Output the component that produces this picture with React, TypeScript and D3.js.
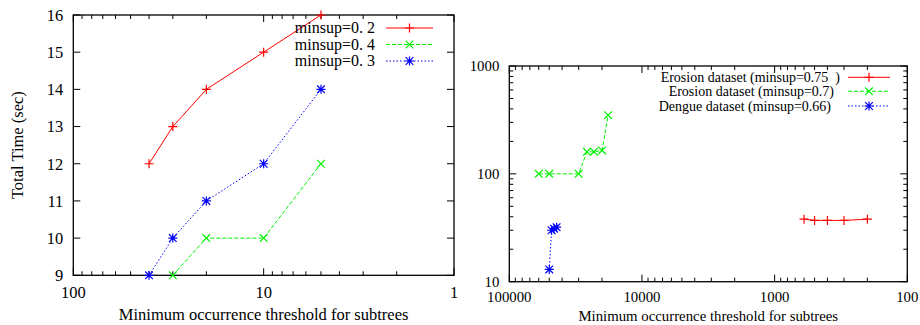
import * as d3 from 'd3';

// ---- left panel data (minimum occurrence threshold vs total time) ----
const leftThresholds = [40, 30, 20, 10, 5];
const leftMinsup02 = [12, 13, 14, 15, 16];
const leftMinsup04X = [30, 20, 10, 5];
const leftMinsup04 = [9, 10, 10, 12];
const leftMinsup03 = [9, 10, 11, 12, 14];
const leftYTicks = [9, 10, 11, 12, 13, 14, 15, 16];
const leftXTicks = [100, 10, 1];

// ---- right panel data (log-log) ----
const erosion075X = [600, 500, 400, 300, 200];
const erosion075Y = [38, 37, 37, 37, 38];
const erosion07X = [60000, 50000, 30000, 26000, 23000, 20000, 18000];
const erosion07Y = [100, 100, 100, 160, 160, 165, 350];
const dengueX = [50000, 48000, 46000, 44000];
const dengueY = [13, 30, 31, 32];
const rightYTicks = [10, 100, 1000];
const rightXTicks = [100000, 10000, 1000, 100];

const FONT = '"Liberation Serif", "Times New Roman", serif';

type Marker = 'plus' | 'cross' | 'star';
interface Series {
  label: string;
  xs: number[];
  ys: number[];
  color: string;
  dash: string | null;
  marker: Marker;
}

function MarkerGlyph({ x, y, type, color, r = 4.5 }: { x: number; y: number; type: Marker; color: string; r?: number }) {
  const plus = `M${x - r},${y}H${x + r}M${x},${y - r}V${y + r}`;
  const k = r * 0.85;
  const cross = `M${x - k},${y - k}L${x + k},${y + k}M${x - k},${y + k}L${x + k},${y - k}`;
  const d = type === 'plus' ? plus : type === 'cross' ? cross : plus + cross;
  return <path d={d} stroke={color} strokeWidth={1.2} fill="none" />;
}

interface PanelProps {
  left: number; right: number; top: number; bottom: number;
  xDomain: [number, number];
  yDomain: [number, number];
  yLog: boolean;
  yTicks: number[];
  xTicks: number[];
  series: Series[];
  fontSize: number;
  legendFontSize: number;
  xLabel: string;
  xLabelY: number;
  xTickY: number;
  yLabel?: string;
  legendRows: number[];
  legendTextEnd: number[];
  legendLine: [number, number];
}

function Panel(p: PanelProps) {
  const x = d3.scaleLog().domain(p.xDomain).range([p.left, p.right]);
  const y = p.yLog
    ? d3.scaleLog().domain(p.yDomain).range([p.bottom, p.top])
    : d3.scaleLinear().domain(p.yDomain).range([p.bottom, p.top]);
  const major = 7;
  const minor = 4;
  const xMinor = x.ticks().filter((t) => !p.xTicks.includes(t));
  const yMinor = p.yLog ? (y as d3.ScaleLogarithmic<number, number>).ticks().filter((t) => !p.yTicks.includes(t)) : [];
  const fmt = (v: number) => String(v);

  return (
    <g>
      {/* ticks */}
      {p.yTicks.map((t) => (
        <g key={'yt' + t}>
          <line x1={p.left} x2={p.left + major} y1={y(t)} y2={y(t)} stroke="#000" />
          <line x1={p.right} x2={p.right - major} y1={y(t)} y2={y(t)} stroke="#000" />
          <text x={p.left - 10} y={y(t)} dy="0.35em" textAnchor="end" fontSize={p.fontSize}>{fmt(t)}</text>
        </g>
      ))}
      {yMinor.map((t) => (
        <g key={'ym' + t}>
          <line x1={p.left} x2={p.left + minor} y1={y(t)} y2={y(t)} stroke="#000" />
          <line x1={p.right} x2={p.right - minor} y1={y(t)} y2={y(t)} stroke="#000" />
        </g>
      ))}
      {p.xTicks.map((t) => (
        <g key={'xt' + t}>
          <line x1={x(t)} x2={x(t)} y1={p.bottom} y2={p.bottom - major} stroke="#000" />
          <line x1={x(t)} x2={x(t)} y1={p.top} y2={p.top + major} stroke="#000" />
          <text x={x(t)} y={p.xTickY} textAnchor="middle" fontSize={p.fontSize}>{fmt(t)}</text>
        </g>
      ))}
      {xMinor.map((t) => (
        <g key={'xm' + t}>
          <line x1={x(t)} x2={x(t)} y1={p.bottom} y2={p.bottom - minor} stroke="#000" />
          <line x1={x(t)} x2={x(t)} y1={p.top} y2={p.top + minor} stroke="#000" />
        </g>
      ))}
      <rect x={p.left} y={p.top} width={p.right - p.left} height={p.bottom - p.top} fill="none" stroke="#000" strokeWidth={1.3} />

      {/* series */}
      {p.series.map((s) => {
        const pts = s.xs.map((v, i) => [x(v), y(s.ys[i])] as [number, number]);
        const line = d3.line()(pts) || '';
        return (
          <g key={s.label}>
            <path d={line} fill="none" stroke={s.color} strokeWidth={1} strokeDasharray={s.dash ?? undefined} />
            {pts.map(([px, py], i) => (
              <MarkerGlyph key={i} x={px} y={py} type={s.marker} color={s.color} />
            ))}
          </g>
        );
      })}

      {/* legend */}
      {p.series.map((s, i) => {
        const ly = p.legendRows[i];
        const [l0, l1] = p.legendLine;
        return (
          <g key={'lg' + s.label}>
            <text x={p.legendTextEnd[i]} y={ly} dy="0.33em" textAnchor="end" fontSize={p.legendFontSize} style={{ whiteSpace: 'pre' }}>{s.label}</text>
            <line x1={l0} x2={l1} y1={ly} y2={ly} stroke={s.color} strokeWidth={1} strokeDasharray={s.dash ?? undefined} />
            <MarkerGlyph x={(l0 + l1) / 2} y={ly} type={s.marker} color={s.color} />
          </g>
        );
      })}

      {/* axis labels */}
      <text x={(p.left + p.right) / 2} y={p.xLabelY} textAnchor="middle" fontSize={p.fontSize}>{p.xLabel}</text>
      {p.yLabel && (
        <text transform={`translate(23, ${(p.top + p.bottom) / 2}) rotate(-90)`} textAnchor="middle" fontSize={p.fontSize}>{p.yLabel}</text>
      )}
    </g>
  );
}

export default function App() {
  const leftSeries: Series[] = [
    { label: 'minsup=0. 2', xs: leftThresholds, ys: leftMinsup02, color: '#ff0000', dash: null, marker: 'plus' },
    { label: 'minsup=0. 4', xs: leftMinsup04X, ys: leftMinsup04, color: '#00f000', dash: '4,2', marker: 'cross' },
    { label: 'minsup=0. 3', xs: leftThresholds, ys: leftMinsup03, color: '#0000ff', dash: '1.5,2', marker: 'star' },
  ];
  const rightSeries: Series[] = [
    { label: 'Erosion dataset (minsup=0.75  )', xs: erosion075X, ys: erosion075Y, color: '#ff0000', dash: null, marker: 'plus' },
    { label: 'Erosion dataset (minsup=0.7)', xs: erosion07X, ys: erosion07Y, color: '#00f000', dash: '4,2', marker: 'cross' },
    { label: 'Dengue dataset (minsup=0.66)', xs: dengueX, ys: dengueY, color: '#0000ff', dash: '1.5,2', marker: 'star' },
  ];

  return (
    <svg width={920} height={325} style={{ position: 'absolute', left: 0, top: 0, background: '#fff' }} fontFamily={FONT}>
      <Panel
        left={73.3} right={454} top={15} bottom={275.3}
        xDomain={[100, 1]} yDomain={[9, 16]} yLog={false}
        yTicks={leftYTicks} xTicks={leftXTicks}
        series={leftSeries} fontSize={16.5} legendFontSize={16}
        xLabel="Minimum occurrence threshold for subtrees" xLabelY={320} xTickY={298}
        yLabel="Total Time (sec)"
        legendRows={[28, 44.5, 61]} legendTextEnd={[375, 375, 375]} legendLine={[386, 433]}
      />
      <Panel
        left={509.3} right={907.3} top={66} bottom={281.7}
        xDomain={[100000, 100]} yDomain={[10, 1000]} yLog={true}
        yTicks={rightYTicks} xTicks={rightXTicks}
        series={rightSeries} fontSize={14.8} legendFontSize={14}
        xLabel="Minimum occurrence threshold for subtrees" xLabelY={321} xTickY={302}
        legendRows={[77.3, 91.3, 106]} legendTextEnd={[840, 834, 831]} legendLine={[848, 890]}
      />
    </svg>
  );
}
